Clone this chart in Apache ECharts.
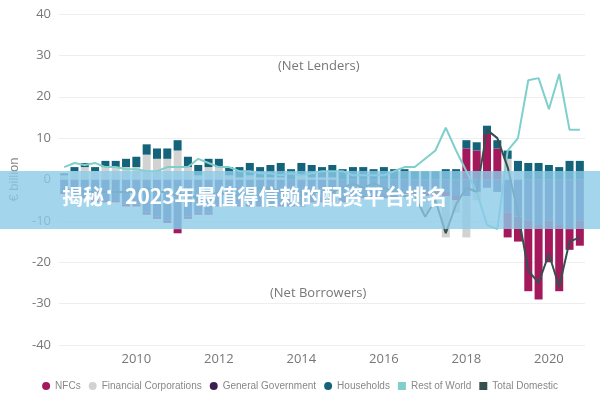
<!DOCTYPE html><html><head><meta charset="utf-8"><script src="https://cdn.jsdelivr.net/npm/echarts@6/dist/echarts.min.js"></script></head><body style="margin:0"><div id="c" style="width:600px;height:400px"></div><script>
const quarters=[];for(let i=0;i<51;i++){const t=2008.25+i*0.25;quarters.push(Math.floor(t)+'Q'+(Math.round((t%1)*4)+1));}
const gov=[-3,-4,-4,-5,-5,-5,-6,-6,-8,-9,-10,-12,-9,-8,-8,-6,-6,-6,-6,-6,-6,-6,-6,-6,-5,-5,-5,-5,-4,-4,-4,-4,-4,-3,-3,-3,-3,-3,-4,-4,-3,-2,-3,-8,-9,-10,-11,-10,-11,-12,-10];
const nfc=[-0.5,-0.5,-0.5,-0.5,-0.5,-0.5,-0.5,-0.5,-0.5,-0.5,-0.5,-1,-0.5,-0.5,-0.5,-0.5,-0.5,-0.5,-0.5,-0.5,-0.5,-0.5,-0.5,-0.5,-0.5,-0.5,-0.5,-0.5,-0.5,-0.5,-0.5,-0.5,-0.5,-0.5,-0.5,-1,-1,-1,-1,7.5,7,11,7.5,-6,-6,-17,-18,-10,-16,-5,-6];
const fin=[1,2,3,2,3,3,3,3,6,5,5,7,3,1,3,3,1,0.5,1,0.5,0.5,0.5,0,1,0.5,0.5,0.5,0,0,0,0,0,0,0,0,-4,0,-10,-3,-10,-2,0,0,5,2,0,0,0,0,0,0];
const hh=[0.5,1,1,1,1.5,1.5,2,2.5,2.5,2.5,2.5,2.5,2.5,2.5,2,2,2,2.5,3,2.5,3,3.5,2.5,3,3,2.5,3,2.5,3,3,2.5,3,2.5,2.5,2,2,2,2.5,2.5,2,2,2,2,2,2.5,4,4,3.5,3,4.5,4.5];
const row=[3,4,3.5,4,3,3,2.5,2.5,2,2,3,3,3,5,4,3,3,2,2,1.5,1.5,1,1.5,1,1.5,2,2,2,1,1,1,1,2,3,3,5,7,12.5,7,2,-3,-11,-12,7,10,24,24.5,17,25.5,12,12];
const tot=[-2,-3,-3,-3,-3,-3,-3,-3,-2,-3,-3,-4,-3,-5,-4,-3,-4,-4,-3,-2,-2,-3,-3,-4,-3,-3,-3,-2,-1,-2,-1,-2,-3,-4,-4,-9,-5,-13,-6,-2,-3,12,10,3,-8,-22,-25,-18,-26,-15,-14];
const bar=(name,data,color)=>({name,type:'bar',stack:'s',data,barWidth:8,itemStyle:{color}});
const ch=echarts.init(document.getElementById('c'));
ch.setOption({animation:false,
grid:{left:55,right:15,top:14,bottom:55},
xAxis:{type:'category',data:quarters,axisLine:{show:false},axisTick:{show:false},splitLine:{show:false},
 axisLabel:{color:'#777',fontSize:13,fontFamily:'Open Sans',interval:0,formatter:v=>{const y=+v.slice(0,4);return v.endsWith('Q1')&&y%2===0?String(y):'';}}},
yAxis:{type:'value',min:-40,max:40,interval:10,axisLabel:{color:'#777',fontSize:13,fontFamily:'Open Sans'},splitLine:{lineStyle:{color:'#eee'}},
 name:'€ billion',nameLocation:'middle',nameGap:38,nameTextStyle:{color:'#888',fontSize:13}},
legend:{bottom:4,left:'center',itemWidth:8,itemHeight:8,itemGap:8,textStyle:{color:'#888',fontSize:10},
 data:[{name:'NFCs',icon:'circle'},{name:'Financial Corporations',icon:'circle'},{name:'General Government',icon:'circle',itemStyle:{color:'#3b1f50'}},{name:'Households',icon:'circle'},{name:'Rest of World',icon:'rect'},{name:'Total Domestic',icon:'rect'}]},
series:[bar('General Government',gov,'#5a5ca2'),bar('NFCs',nfc,'#a3195b'),bar('Financial Corporations',fin,'#d2d2d2'),bar('Households',hh,'#14637a'),
 {name:'Rest of World',type:'line',data:row,symbol:'none',lineStyle:{color:'#7fd0cc',width:2},itemStyle:{color:'#7fd0cc'}},
 {name:'Total Domestic',type:'line',data:tot,symbol:'none',lineStyle:{color:'#35504f',width:2},itemStyle:{color:'#35504f'}}],
graphic:[
 {type:'text',left:278,top:60,style:{text:'(Net Lenders)',fill:'#777',fontSize:13,fontFamily:'Open Sans'}},
 {type:'text',left:270,top:287,style:{text:'(Net Borrowers)',fill:'#777',fontSize:13,fontFamily:'Open Sans'}},
 {type:'rect',shape:{x:0,y:171,width:600,height:58},style:{fill:'rgba(140,203,232,0.8)'},z:100},
 {type:'text',left:62,top:186,z:101,style:{text:'揭秘：2023年最值得信赖的配资平台排名',fill:'#fff',fontSize:21,fontWeight:'bold',fontFamily:'Noto Sans CJK SC'}}
]});
</script></body></html>
